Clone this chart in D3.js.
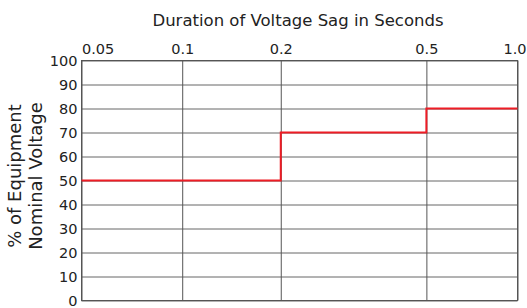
<!DOCTYPE html>
<html>
<head>
<meta charset="utf-8">
<script src="https://cdn.jsdelivr.net/npm/d3@7"></script>
<style>
  body { margin: 0; background: #fff; }
  text { font-family: "DejaVu Sans", sans-serif; fill: #222; }
</style>
</head>
<body>
<svg id="chart"></svg>
<script>
// duration ticks (seconds) and the step curve
var durationTicks = [0.05, 0.1, 0.2, 0.5, 1.0];
var durationLabels = ["0.05", "0.1", "0.2", "0.5", "1.0"];
var voltageTicks = [0, 10, 20, 30, 40, 50, 60, 70, 80, 90, 100];
var stepDurations = [0.05, 0.2, 0.5, 1.0];
var stepVoltages = [50, 70, 80, 80];

var width = 527, height = 308;
var margin = {left: 81.5, right: 9.5, top: 60.5, bottom: 7.5};
var w = width - margin.left - margin.right;
var h = height - margin.top - margin.bottom;

var svg = d3.select("#chart")
    .attr("width", width)
    .attr("height", height);

var g = svg.append("g")
    .attr("transform", "translate(" + margin.left + "," + margin.top + ")");

// x: the printed grid isn't a true log spacing, so map each tick piecewise
var x = d3.scaleLinear()
    .domain(durationTicks)
    .range([0, 0.231 * w, 0.457 * w, 0.791 * w, w]);

var y = d3.scaleLinear()
    .domain([0, 100])
    .range([h, 0]);

// gridlines
g.append("g")
    .attr("class", "grid")
    .call(d3.axisLeft(y).tickValues(voltageTicks).tickSize(-w).tickFormat(""))
    .call(s => s.select(".domain").remove())
    .selectAll("line").attr("stroke", "#666");

g.append("g")
    .attr("class", "grid")
    .call(d3.axisTop(x).tickValues(durationTicks).tickSize(-h).tickFormat(""))
    .call(s => s.select(".domain").remove())
    .selectAll("line").attr("stroke", "#555");

// frame
g.append("rect")
    .attr("width", w).attr("height", h)
    .attr("fill", "none").attr("stroke", "#555");

// y tick labels
var yAxis = g.append("g")
    .call(d3.axisLeft(y).tickValues(voltageTicks).tickSize(0).tickPadding(4))
    .call(s => s.select(".domain").remove());
yAxis.selectAll("text")
    .style("font-size", "14.5px")
    .attr("dy", "0.36em")
    .attr("fill", "#222");

// x tick labels on top; the end ones are pulled inside the frame
var last = durationTicks.length - 1;
var xAxis = g.append("g")
    .call(d3.axisTop(x).tickValues(durationTicks).tickSize(0).tickPadding(6.5)
        .tickFormat((d, i) => durationLabels[i]))
    .call(s => s.select(".domain").remove());
xAxis.selectAll("text")
    .style("font-size", "14.5px")
    .attr("fill", "#222")
    .attr("text-anchor", (d, i) => i === 0 ? "start" : i === last ? "end" : "middle")
    .attr("dx", (d, i) => i === last ? "8.5" : "0");

// step line
var line = d3.line()
    .x(d => x(d[0]))
    .y(d => y(d[1]))
    .curve(d3.curveStepAfter);

g.append("path")
    .datum(stepDurations.map((d, i) => [d, stepVoltages[i]]))
    .attr("fill", "none")
    .attr("stroke", "#ee1c25")
    .attr("stroke-width", 2)
    .attr("d", line);

// titles
svg.append("text")
    .attr("x", 298)
    .attr("y", 26)
    .attr("text-anchor", "middle")
    .style("font-size", "16.5px")
    .text("Duration of Voltage Sag in Seconds");

var yl = svg.append("text")
    .attr("transform", "translate(21,176) rotate(-90)")
    .attr("text-anchor", "middle")
    .style("font-size", "18px");
yl.append("tspan").attr("x", 0).attr("dy", 0).text("% of Equipment");
yl.append("tspan").attr("x", 0).attr("dy", 21).text("Nominal Voltage");
</script>
</body>
</html>
